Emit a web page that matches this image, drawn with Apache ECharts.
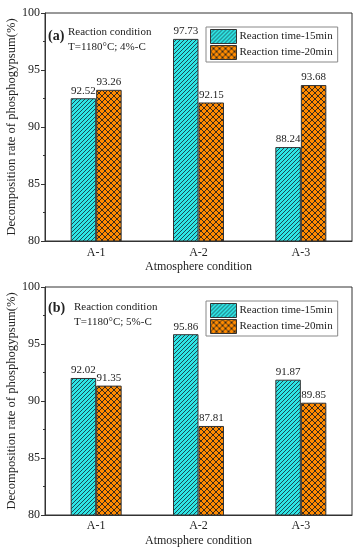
<!DOCTYPE html>
<html><head><meta charset="utf-8">
<script src="https://cdn.jsdelivr.net/npm/echarts@6/dist/echarts.min.js"></script>
<style>html,body{margin:0;padding:0;background:#fff}#c{width:358px;height:550px}</style>
</head><body><div id="c"></div>
<script>
const categories = ['A-1', 'A-2', 'A-3'];
const seriesNames = ['Reaction time-15min', 'Reaction time-20min'];
const a15 = [92.52, 97.73, 88.24];
const a20 = [93.26, 92.15, 93.68];
const b15 = [92.02, 95.86, 91.87];
const b20 = [91.35, 87.81, 89.85];
const yTicks = [80, 85, 90, 95, 100];

function hatch(bg, fg, s, cross) {
  const c = document.createElement('canvas');
  c.width = s; c.height = s;
  const g = c.getContext('2d');
  g.fillStyle = bg; g.fillRect(0, 0, s, s);
  g.strokeStyle = fg; g.lineWidth = 1;
  g.beginPath();
  g.moveTo(-1, s + 1); g.lineTo(s + 1, -1);
  g.moveTo(-1, 1); g.lineTo(1, -1);
  g.moveTo(s - 1, s + 1); g.lineTo(s + 1, s - 1);
  if (cross) {
    g.moveTo(-1, -1); g.lineTo(s + 1, s + 1);
    g.moveTo(s - 1, -1); g.lineTo(s + 1, 1);
    g.moveTo(-1, s - 1); g.lineTo(1, s + 1);
  }
  g.stroke();
  return { image: c, repeat: 'repeat' };
}
const cyanPat = hatch('#2ee6e6', '#1b4a55', 4, false);
const orangePat = hatch('#ff8a00', '#3a2a1a', 6, true);

const FONT = 'Liberation Serif';
const chart = echarts.init(document.getElementById('c'), null, { renderer: 'canvas' });

const grids = [
  { left: 45, top: 13, width: 307, height: 228, show: true, borderColor: '#333', borderWidth: 1, containLabel: false, outerBoundsMode: 'none' },
  { left: 45, top: 287, width: 307, height: 228, show: true, borderColor: '#333', borderWidth: 1, containLabel: false, outerBoundsMode: 'none' }
];
function xAx(i, gap, margin) {
  return {
    type: 'category', gridIndex: i, data: categories,
    name: 'Atmosphere condition', nameLocation: 'middle', nameGap: gap, nameMoveOverlap: false,
    nameTextStyle: { fontFamily: FONT, fontSize: 12, color: '#222' },
    axisLine: { lineStyle: { color: '#333', width: 1 } },
    axisTick: { alignWithLabel: true, length: 5, lineStyle: { color: '#333' } },
    axisLabel: { fontFamily: FONT, fontSize: 12, color: '#222', margin: margin }
  };
}
function yAx(i) {
  return {
    type: 'value', gridIndex: i, min: yTicks[0], max: yTicks[yTicks.length - 1], interval: 5,
    name: 'Decomposition rate of phosphogypsum(%)', nameLocation: 'middle', nameGap: 27, nameMoveOverlap: false,
    nameTextStyle: { fontFamily: FONT, fontSize: 12.6, color: '#222' },
    axisLine: { show: true, lineStyle: { color: '#333', width: 1 } },
    axisTick: { show: true, length: 4, lineStyle: { color: '#333' } },
    minorTick: { show: true, splitNumber: 2, length: 2, lineStyle: { color: '#333' } },
    splitLine: { show: false },
    axisLabel: { fontFamily: FONT, fontSize: 12, color: '#222', margin: 5 }
  };
}
function bar(name, data, i, pat) {
  return {
    name: name, type: 'bar', xAxisIndex: i, yAxisIndex: i, data: data,
    barWidth: 25.5, barGap: '0%',
    itemStyle: { color: pat, borderColor: '#333', borderWidth: 1 },
    label: { show: true, position: 'top', distance: 2, fontFamily: FONT, fontSize: 11, color: '#222',
      formatter: p => p.value.toFixed(2) },
    emphasis: { disabled: true },
    animation: false
  };
}
function legend(top, i) {
  return {
    orient: 'vertical', left: 206, top: top, itemWidth: 26, itemHeight: 14, itemGap: 1,
    padding: [2, 5, 2, 4], borderColor: '#888', borderWidth: 1, icon: 'rect',
    data: seriesNames, selectedMode: false,
    itemStyle: { borderColor: '#333', borderWidth: 1 },
    textStyle: { fontFamily: FONT, fontSize: 11, color: '#222', padding: [0, 0, 0, -2] }
  };
}
function txt(x, y, t, size, bold) {
  return { type: 'text', left: x, top: y, style: { text: t, fontFamily: FONT, fontSize: size, fontWeight: bold ? 'bold' : 'normal', fill: '#222' } };
}
chart.setOption({
  animation: false,
  grid: grids,
  xAxis: [xAx(0, 20, 6), xAx(1, 20, 5)],
  yAxis: [yAx(0), yAx(1)],
  legend: [legend(27, 0), legend(301, 1)],
  series: [
    bar(seriesNames[0], a15, 0, cyanPat),
    bar(seriesNames[1], a20, 0, orangePat),
    bar(seriesNames[0], b15, 1, cyanPat),
    bar(seriesNames[1], b20, 1, orangePat)
  ],
  graphic: [
    txt(48, 29, '(a)', 14, true),
    txt(68, 27, 'Reaction condition', 11),
    txt(68, 42, 'T=1180°C; 4%-C', 11),
    txt(48, 301, '(b)', 14, true),
    txt(74, 302, 'Reaction condition', 11),
    txt(74, 317, 'T=1180°C; 5%-C', 11)
  ]
});
</script></body></html>
